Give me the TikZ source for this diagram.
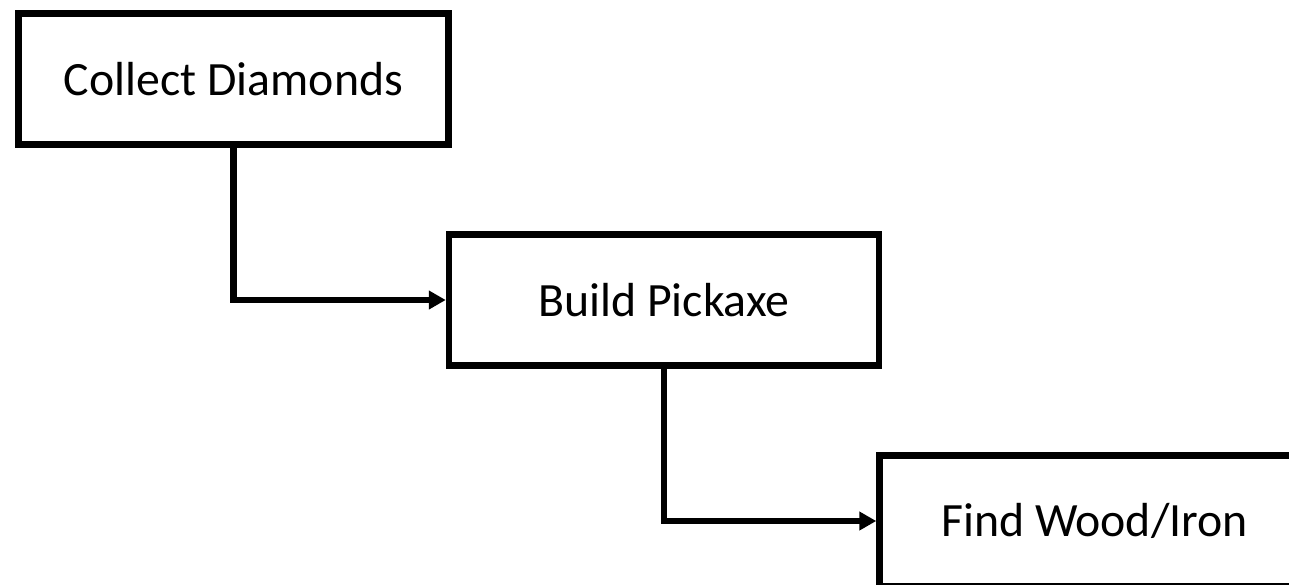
\documentclass[tikz,border=0pt]{standalone}
\usepackage{fontspec}
\setmainfont{Carlito}
\usetikzlibrary{arrows.meta,positioning}

\tikzset{
  stepbox/.style={
    rectangle, draw=black, fill=white, line width=0.13cm,
    minimum width=8.6cm, minimum height=2.62cm,
    font=\fontsize{27.2}{32}\selectfont, align=center,
    inner sep=0pt
  },
  flowarrow/.style={
    -{Triangle[length=0.34cm, width=0.36cm]}, line width=0.13cm, color=black
  },
}

\begin{document}
\begin{tikzpicture}[
  node distance=1.67cm and -0.12cm
]

\useasboundingbox (0,0) rectangle (25.78,-11.68);

% Task chain, each step down and to the right of the last
\node[stepbox] (collect) at (4.67,-1.58) {Collect Diamonds};
\node[stepbox, below right=of collect] (pickaxe) {Build Pickaxe};
\node[stepbox, below right=of pickaxe] (wood) {Find Wood/Iron};

% Elbow connectors
\draw[flowarrow] (collect.south) |- (pickaxe.west);
\draw[flowarrow] (pickaxe.south) |- (wood.west);

\end{tikzpicture}
\end{document}
